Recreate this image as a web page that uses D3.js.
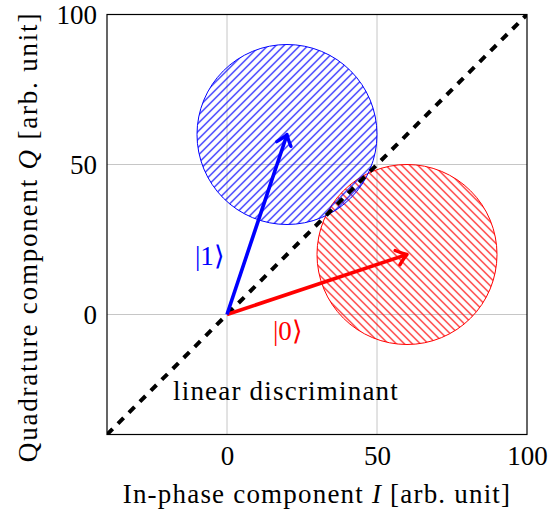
<!DOCTYPE html>
<html>
<head>
<meta charset="utf-8">
<script src="https://cdn.jsdelivr.net/npm/d3@7"></script>
<style>
  html, body { margin: 0; padding: 0; background: #fff; }
  svg { display: block; }
  text { font-family: "Liberation Serif", "Times New Roman", serif; fill: #000; }
</style>
</head>
<body>
<script>
// ---- data ----
const xDomain = [-40, 100];
const yDomain = [-40, 100];
const xTickValues = [0, 50, 100];
const yTickValues = [0, 50, 100];
const gridValues = [0, 50];

const stateLabels = ["|0\u27E9", "|1\u27E9"];
const centerI = [60, 20];
const centerQ = [20, 60];
const spreadRadius = [30, 30];
const stateColors = ["#ff0000", "#0000ff"];
const labelI = [20.3, -5.7];
const labelQ = [-8.6, 16.6];

const discriminantI = [-40, 100];
const discriminantQ = [-40, 100];
const discriminantLabel = "linear discriminant";
const discriminantLabelPos = [-18, -28.6];

const xLabelMain = "In-phase component ";
const xLabelVar = "I";
const xLabelUnit = " [arb. unit]";
const yLabelMain = "Quadrature component ";
const yLabelVar = "Q";
const yLabelUnit = " [arb. unit]";

// ---- layout ----
const W = 549, H = 513;
const margin = { left: 107, top: 14.5, right: 22, bottom: 78.5 };
const iw = W - margin.left - margin.right;   // 420
const ih = H - margin.top - margin.bottom;   // 420

const svg = d3.select("body").append("svg").attr("width", W).attr("height", H);
const g = svg.append("g").attr("transform", `translate(${margin.left},${margin.top})`);

const x = d3.scaleLinear().domain(xDomain).range([0, iw]);
const y = d3.scaleLinear().domain(yDomain).range([ih, 0]);

// hatch patterns
const T = 8;
const defs = svg.append("defs");
const neP = defs.append("pattern").attr("id", "hatch-ne").attr("patternUnits", "userSpaceOnUse")
  .attr("width", T).attr("height", T);
neP.append("path").attr("d", `M-1,1 l2,-2 M0,${T} l${T},-${T} M${T-1},${T+1} l2,-2`)
  .attr("stroke", stateColors[1]).attr("stroke-width", 1.1);
const nwP = defs.append("pattern").attr("id", "hatch-nw").attr("patternUnits", "userSpaceOnUse")
  .attr("width", T).attr("height", T);
nwP.append("path").attr("d", `M-1,${T-1} l2,2 M0,0 l${T},${T} M${T-1},-1 l2,2`)
  .attr("stroke", stateColors[0]).attr("stroke-width", 1.1);
const hatchIds = ["hatch-nw", "hatch-ne"];

defs.append("clipPath").attr("id", "plotclip").append("rect")
  .attr("x", 0).attr("y", 0).attr("width", iw).attr("height", ih);

// grid
g.append("g").selectAll("line.gx").data(gridValues).join("line")
  .attr("x1", d => x(d)).attr("x2", d => x(d)).attr("y1", 0).attr("y2", ih)
  .attr("stroke", "#c6c6c6").attr("stroke-width", 1);
g.append("g").selectAll("line.gy").data(gridValues).join("line")
  .attr("y1", d => y(d)).attr("y2", d => y(d)).attr("x1", 0).attr("x2", iw)
  .attr("stroke", "#c6c6c6").attr("stroke-width", 1);

// axes (labels only)
const xAxis = g.append("g").attr("transform", `translate(0,${ih})`)
  .call(d3.axisBottom(x).tickValues(xTickValues).tickSize(0).tickPadding(11).tickFormat(d3.format("d")));
const yAxis = g.append("g")
  .call(d3.axisLeft(y).tickValues(yTickValues).tickSize(0).tickPadding(10).tickFormat(d3.format("d")));
[xAxis, yAxis].forEach(a => {
  a.select(".domain").remove();
  a.selectAll("text").attr("font-family", "Liberation Serif").attr("font-size", 27).attr("fill", "#000");
});

const plot = g.append("g").attr("clip-path", "url(#plotclip)");

// state spreads (circles)
const order = [0, 1];
plot.selectAll("circle.state").data(order).join("circle")
  .attr("cx", i => x(centerI[i])).attr("cy", i => y(centerQ[i]))
  .attr("r", i => x(spreadRadius[i]) - x(0))
  .attr("fill", i => `url(#${hatchIds[i]})`)
  .attr("stroke", i => stateColors[i]).attr("stroke-width", 1);

// discriminant line
plot.append("line")
  .attr("x1", x(discriminantI[0])).attr("y1", y(discriminantQ[0]))
  .attr("x2", x(discriminantI[1])).attr("y2", y(discriminantQ[1]))
  .attr("stroke", "#000").attr("stroke-width", 4).attr("stroke-dasharray", "8,7.5");

// arrows
order.forEach(i => {
  const x0 = x(0), y0 = y(0), x1 = x(centerI[i]), y1 = y(centerQ[i]);
  const len = Math.hypot(x1 - x0, y1 - y0);
  const ux = (x1 - x0) / len, uy = (y1 - y0) / len;
  const nx = -uy, ny = ux;
  g.append("line").attr("x1", x0).attr("y1", y0).attr("x2", x1 - ux * 1).attr("y2", y1 - uy * 1)
    .attr("stroke", stateColors[i]).attr("stroke-width", 3.6);
  const L = 10, Wd = 7.5;
  const p = (a, b) => [x1 - ux * a + nx * b, y1 - uy * a + ny * b];
  const b1 = p(L, Wd), c1 = p(L * 0.35, Wd * 0.25), b2 = p(L, -Wd), c2 = p(L * 0.35, -Wd * 0.25);
  g.append("path")
    .attr("d", `M${b1[0]},${b1[1]} Q${c1[0]},${c1[1]} ${x1},${y1} Q${c2[0]},${c2[1]} ${b2[0]},${b2[1]}`)
    .attr("fill", "none").attr("stroke", stateColors[i]).attr("stroke-width", 3.4)
    .attr("stroke-linecap", "round").attr("stroke-linejoin", "round");
});

// state labels
g.selectAll("text.state").data(order).join("text")
  .attr("x", i => x(labelI[i])).attr("y", i => y(labelQ[i]))
  .attr("text-anchor", "middle").attr("font-size", 27)
  .style("fill", i => stateColors[i])
  .text(i => stateLabels[i]);

// discriminant label
g.append("text").attr("x", x(discriminantLabelPos[0])).attr("y", y(discriminantLabelPos[1]))
  .attr("font-size", 27).attr("letter-spacing", 1.2).text(discriminantLabel);

// frame
g.append("rect").attr("x", 0).attr("y", 0).attr("width", iw).attr("height", ih)
  .attr("fill", "none").attr("stroke", "#000").attr("stroke-width", 1.2);

// axis titles
const xt = svg.append("text").attr("x", margin.left + iw / 2).attr("y", 503)
  .attr("text-anchor", "middle").attr("font-size", 27).attr("letter-spacing", 1.2);
xt.append("tspan").text(xLabelMain);
xt.append("tspan").attr("font-style", "italic").text(xLabelVar);
xt.append("tspan").text(xLabelUnit);

const yt = svg.append("text").attr("transform", `translate(37,237) rotate(-90)`)
  .attr("text-anchor", "middle").attr("font-size", 27).attr("letter-spacing", 1.8);
yt.append("tspan").text(yLabelMain);
yt.append("tspan").attr("font-style", "italic").text(yLabelVar);
yt.append("tspan").text(yLabelUnit);
</script>
</body>
</html>
